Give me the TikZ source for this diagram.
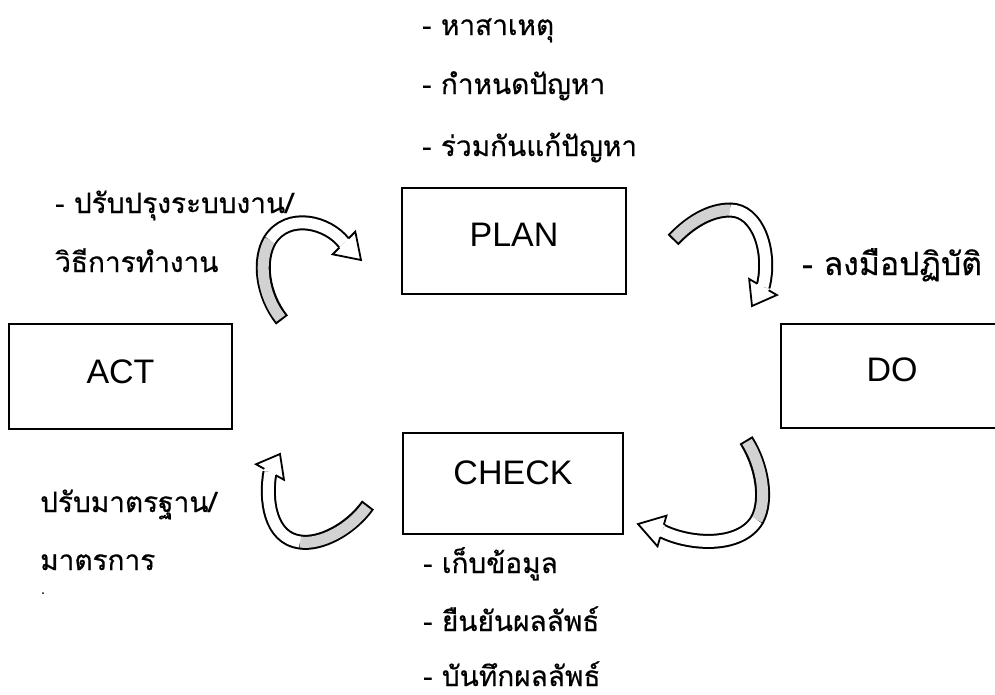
\documentclass[tikz,border=0pt]{standalone}
\usepackage{fontspec}
\setmainfont{Liberation Sans}
\newfontfamily\thaifont[Script=Thai,FakeBold=0.5]{Loma}
\usetikzlibrary{calc}
\newcommand\latinsize{\fontsize{34}{40}\selectfont}
\newcommand\thaisize{\thaifont\fontsize{28}{34}\selectfont}
\newcommand\thaibig{\thaifont\fontsize{32}{38}\selectfont}
% #1 tail, #2 #3 controls, #4 mid, #5 #6 controls, #7 neck, #8 tip
\newcommand\ribbonarrow[8]{%
  \draw[bandouter] (#1) .. controls #2 and #3 .. (#4) .. controls #5 and #6 .. (#7);
  \draw[bandinner, bandshade, shorten <=2pt] (#1) .. controls #2 and #3 .. (#4);
  \draw[bandinner, white] (#4) .. controls #5 and #6 .. (#7);
  \fill[white] ($(#7)!16pt!90:(#8)$) -- (#8) -- ($(#7)!16pt!-90:(#8)$) -- cycle;
  \draw[headline] ($(#7)!6.5pt!90:(#8)$) -- ($(#7)!16pt!90:(#8)$) -- (#8)
     -- ($(#7)!16pt!-90:(#8)$) -- ($(#7)!6.5pt!-90:(#8)$);
}
\begin{document}
\begin{tikzpicture}[x=1pt,y=-1pt,
  box/.style={draw, line width=1.8pt, font=\latinsize, inner sep=0pt},
  thai/.style={anchor=base west, inner sep=0pt, font=\thaisize},
  bandouter/.style={line width=15pt, black},
  bandinner/.style={line width=11pt},
  bandshade/.style={gray!35},
  headline/.style={line width=1.8pt, line join=miter, black}]
\clip (0,0) rectangle (995,694);
\fill[white] (0,0) rectangle (995,694);

% boxes
\node[box, minimum width=224pt, minimum height=106pt, text depth=12pt] (plan) at (514,241) {PLAN};
\node[box, minimum width=223pt, minimum height=105pt, text depth=9pt] (act) at (120.5,376.5) {ACT};
\node[box, minimum width=222pt, minimum height=104pt, text depth=12pt] (do) at (892,376) {DO};
\node[box, minimum width=220pt, minimum height=101pt, text depth=21pt] (check) at (513,483.5) {CHECK};

% texts
\node[thai] (p1) at (422,35) {- หาสาเหตุ};
\node[thai] (p2) at (422,94) {- กำหนดปัญหา};
\node[thai] (p3) at (422,156) {- ร่วมกันแก้ปัญหา};
\node[thai] (a1) at (55,213) {- ปรับปรุงระบบงาน/};
\node[thai] (a2) at (55,272) {วิธีการทำงาน};
\node[thai, font=\thaibig] (d1) at (802,275) {- ลงมือปฏิบัติ};
\node[thai] (s1) at (40,512) {ปรับมาตรฐาน/};
\node[thai] (s2) at (40,570) {มาตรการ};
\node[thai] (c1) at (423,573) {- เก็บข้อมูล};
\node[thai] (c2) at (423,631) {- ยืนยันผลลัพธ์};
\node[thai] (c3) at (423,686) {- บันทึกผลลัพธ์};
\fill (43,593) circle (1pt);

% arrow ACT -> PLAN
\coordinate (At) at (282,320);
\coordinate (Am) at (270,240);
\coordinate (An) at (344,243);
\coordinate (Ap) at (361,260);
\ribbonarrow{At}{(262,295)}{(258,260)}{Am}{(288,212)}{(328,222)}{An}{Ap}

% arrow PLAN -> DO
\coordinate (Bt) at (673,240);
\coordinate (Bm) at (730,210);
\coordinate (Bn) at (763,287);
\coordinate (Bp) at (752,306);
\ribbonarrow{Bt}{(690,222)}{(710,210)}{Bm}{(758,210)}{(772,252)}{Bn}{Bp}

% arrow DO -> CHECK
\coordinate (Ct) at (746,440);
\coordinate (Cm) at (757,520);
\coordinate (Cn) at (662,531);
\coordinate (Cp) at (638,524);
\ribbonarrow{Ct}{(762,465)}{(768,500)}{Cm}{(740,548)}{(690,545)}{Cn}{Cp}

% arrow CHECK -> ACT
\coordinate (Dt) at (368,505);
\coordinate (Dm) at (300,542);
\coordinate (Dn) at (270,472);
\coordinate (Dp) at (280,454);
\ribbonarrow{Dt}{(350,530)}{(320,545)}{Dm}{(270,538)}{(265,500)}{Dn}{Dp}
\end{tikzpicture}
\end{document}
